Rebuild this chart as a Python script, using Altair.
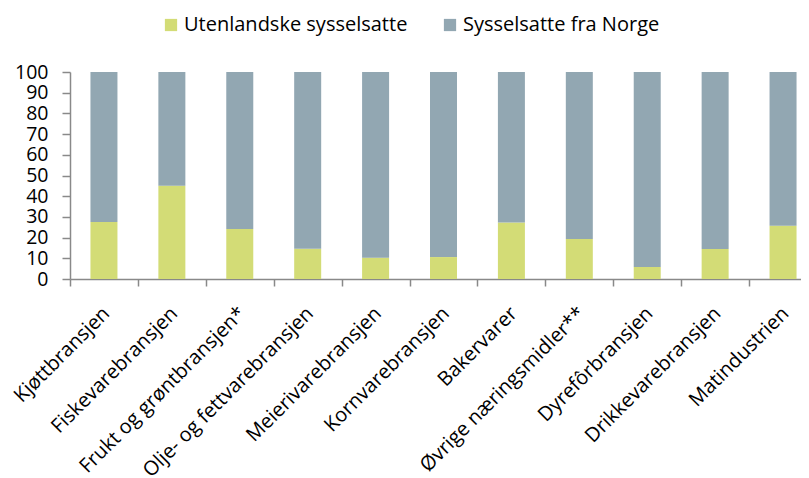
import altair as alt
import pandas as pd

categories = [
    "Kjøttbransjen", "Fiskevarebransjen", "Frukt og grøntbransjen*",
    "Olje- og fettvarebransjen", "Meierivarebransjen", "Kornvarebransjen",
    "Bakervarer", "Øvrige næringsmidler**", "Dyrefôrbransjen",
    "Drikkevarebransjen", "Matindustrien",
]
utenlandske = [27.5, 45.0, 24.1, 14.6, 10.3, 10.6, 27.3, 19.3, 5.8, 14.5, 25.7]
norge = [round(100 - v, 1) for v in utenlandske]
series = ["Utenlandske sysselsatte", "Sysselsatte fra Norge"]
colors = ["#D3DC76", "#92A7B2"]

rows = []
for c, u, n in zip(categories, utenlandske, norge):
    rows.append({"kategori": c, "serie": series[0], "verdi": u, "ord": 0})
    rows.append({"kategori": c, "serie": series[1], "verdi": n, "ord": 1})
df = pd.DataFrame(rows)

FONT = "Open Sans"
AXIS_GRAY = "#898989"

chart = (
    alt.Chart(df)
    .mark_bar(size=27)
    .encode(
        x=alt.X(
            "kategori:N",
            sort=categories,
            title=None,
            scale=alt.Scale(paddingInner=0, paddingOuter=0),
            axis=alt.Axis(
                labelAngle=-45,
                labelAlign="right",
                labelBaseline="top",
                labelFont=FONT,
                labelFontSize=20,
                labelColor="#000000",
                labelPadding=17,
                labelOffset=-5,
                labelOverlap=False,
                labelLimit=400,
                tickBand="extent",
                tickSize=7,
                tickColor=AXIS_GRAY,
                tickWidth=1.5,
                domainColor=AXIS_GRAY,
                domainWidth=1.5,
                grid=False,
            ),
        ),
        y=alt.Y(
            "verdi:Q",
            stack="zero",
            title=None,
            scale=alt.Scale(domain=[0, 100], nice=False),
            axis=alt.Axis(
                values=list(range(0, 101, 10)),
                labelFont=FONT,
                labelFontSize=19.5,
                labelColor="#000000",
                labelPadding=14,
                labelOverlap=False,
                labelBound=False,
                labelFlush=False,
                tickSize=8,
                tickColor=AXIS_GRAY,
                tickWidth=1.5,
                domainColor=AXIS_GRAY,
                domainWidth=1.5,
                grid=False,
            ),
        ),
        color=alt.Color(
            "serie:N",
            scale=alt.Scale(domain=series, range=colors),
            legend=alt.Legend(
                title=None,
                orient="none",
                direction="horizontal",
                legendX=91,
                legendY=-57,
                symbolType="square",
                symbolSize=150,
                symbolStrokeWidth=0,
                symbolOpacity=1,
                labelFont=FONT,
                labelFontSize=20,
                labelColor="#000000",
                labelOffset=3,
                labelLimit=400,
                columnPadding=32,
                padding=0,
            ),
        ),
        order=alt.Order("ord:Q", sort="ascending"),
    )
    .properties(
        width=747,
        height=207,
        autosize=alt.AutoSizeParams(type="none"),
        padding={"left": 62, "top": 64, "right": -16, "bottom": 198},
    )
    .configure_view(stroke=None)
)

chart.save("out.html", embed_options={"renderer": "svg", "actions": False})
